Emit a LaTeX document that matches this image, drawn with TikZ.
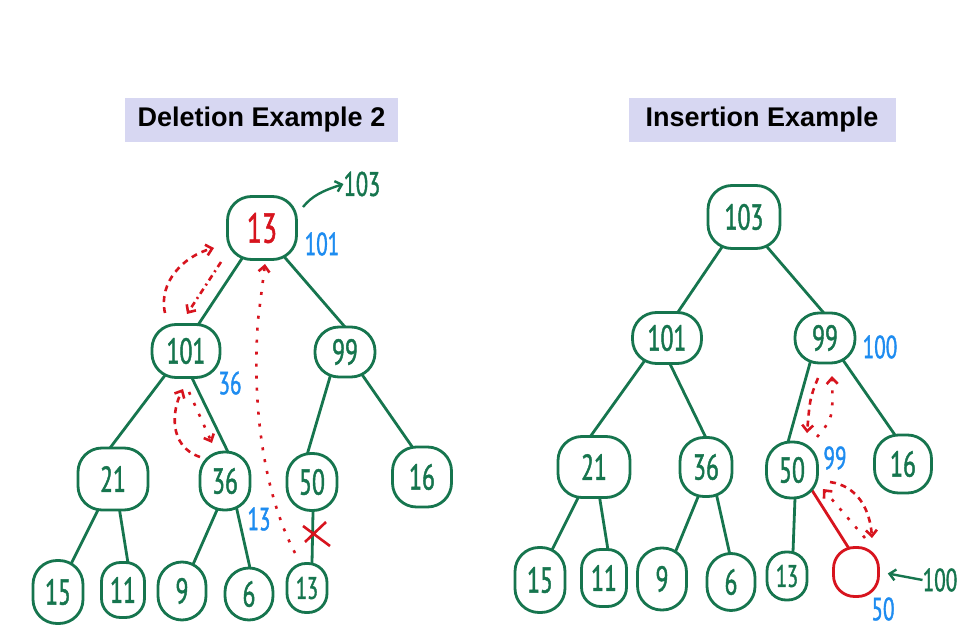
\documentclass[tikz,border=0pt]{standalone}
\usepackage{fontspec}
\usetikzlibrary{arrows.meta,backgrounds}
\setmainfont{Liberation Sans}
\newfontfamily\hand[FakeStretch=0.66,FakeBold=1.2]{PT Sans}
\definecolor{hgreen}{RGB}{22,117,78}
\definecolor{hred}{RGB}{215,20,30}
\definecolor{hblue}{RGB}{30,140,240}
\definecolor{lav}{RGB}{215,215,242}
\tikzset{
  nd/.style={draw=hgreen, fill=white, line width=2.8pt, rounded corners=24pt, inner sep=0pt,
    text=hgreen, font=\hand\fontsize{36}{36}\selectfont},
  thin/.style={rounded corners=19pt},
  edge/.style={draw=hgreen, line width=2.8pt, shorten <=-12pt, shorten >=-12pt},
  bl/.style={text=hblue, inner sep=0pt, font=\hand\fontsize{32}{32}\selectfont},
  gl/.style={text=hgreen, inner sep=0pt, font=\hand\fontsize{34}{34}\selectfont},
  ttl/.style={fill=lav, inner sep=0pt, font=\bfseries\fontsize{27}{27}\selectfont},
  rarr/.style={draw=hred, line width=2.6pt, -{Straight Barb[length=6pt,width=11pt]}},
  rdash/.style={rarr, dash pattern=on 6pt off 5pt},
  rdot/.style={rarr, dash pattern=on 3pt off 9pt},
  rdd/.style={rarr, dash pattern=on 6pt off 4pt on 2pt off 4pt},
  garr/.style={draw=hgreen, line width=2.4pt, -{Straight Barb[length=6pt,width=11pt]}}
}
\newcommand{\edg}[5][hgreen]{%
  \draw[edge, draw=#1] ([shift={#3}]#2.center) -- ([shift={#5}]#4.center);}
\begin{document}
\begin{tikzpicture}[x=1pt,y=-1pt]
\useasboundingbox (0,0) rectangle (980,644);
% titles
\node[ttl, minimum width=273pt, minimum height=44pt] (t1) at (261.5,120) {Deletion Example 2};
\node[ttl, minimum width=267pt, minimum height=44pt] (t2) at (762,120) {Insertion Example};

% ---------- left tree ----------
\node[nd, text=hred, font=\hand\fontsize{42}{42}\selectfont, minimum width=69pt, minimum height=63pt] (L13) at (262,228) {13};
\node[nd, minimum width=68pt, minimum height=53pt] (L101) at (186,351) {101};
\node[nd, minimum width=60pt, minimum height=50pt] (L99) at (345,352) {99};
\node[nd, minimum width=70pt, minimum height=62pt] (L21) at (113,479) {21};
\node[nd, minimum width=50pt, minimum height=58pt] (L36) at (225,481) {36};
\node[nd, minimum width=50pt, minimum height=57pt] (L50) at (312,482) {50};
\node[nd, minimum width=59pt, minimum height=60pt] (L16) at (422,477) {16};
\node[nd, minimum width=50pt, minimum height=63pt] (L15) at (58,592) {15};
\node[nd, thin, minimum width=43pt, minimum height=55pt] (L11) at (123,590) {11};
\node[nd, minimum width=48pt, minimum height=58pt] (L9) at (182,591) {9};
\node[nd, minimum width=48pt, minimum height=52pt] (L6) at (249,594) {6};
\node[nd, thin, font=\hand\fontsize{31}{31}\selectfont, minimum width=40pt, minimum height=49pt] (L13b) at (307,588) {13};

% ---------- right tree ----------
\node[nd, minimum width=72pt, minimum height=63pt] (R103) at (744,217) {103};
\node[nd, minimum width=69pt, minimum height=51pt] (R101) at (667,338) {101};
\node[nd, minimum width=60pt, minimum height=50pt] (R99) at (825,338) {99};
\node[nd, minimum width=72pt, minimum height=61pt] (R21) at (594,467) {21};
\node[nd, minimum width=52pt, minimum height=59pt] (R36) at (706,467) {36};
\node[nd, minimum width=51pt, minimum height=56pt] (R50) at (792,470) {50};
\node[nd, minimum width=57pt, minimum height=58pt] (R16) at (903,464) {16};
\node[nd, minimum width=50pt, minimum height=65pt] (R15) at (540,580) {15};
\node[nd, thin, minimum width=45pt, minimum height=57pt] (R11) at (604,578) {11};
\node[nd, minimum width=49pt, minimum height=62pt] (R9) at (662,579) {9};
\node[nd, minimum width=48pt, minimum height=57pt] (R6) at (731,582) {6};
\node[nd, thin, font=\hand\fontsize{31}{31}\selectfont, minimum width=40pt, minimum height=48pt] (R13) at (787,576) {13};
\node[nd, draw=hred, rounded corners=21pt, minimum width=45pt, minimum height=49pt] (Rnew) at (856,572) {};

\begin{scope}[on background layer]
\edg{L13}{(-21,32)}{L101}{(12,-26)}
\edg{L13}{(25,32)}{L99}{(0,-25)}
\edg{L101}{(-23,27)}{L21}{(-3,-31)}
\edg{L101}{(6,27)}{L36}{(3,-29)}
\edg{L99}{(-15,25)}{L50}{(-5,-27)}
\edg{L99}{(18,24)}{L16}{(-9,-29)}
\edg{L21}{(-16,33)}{L15}{(15,-32)}
\edg{L21}{(7,34)}{L11}{(5,-27)}
\edg{L36}{(-8,29)}{L9}{(13,-31)}
\edg{L36}{(12,29)}{L6}{(1,-26)}
\edg{L50}{(1,30)}{L13b}{(5,-25)}
\edg{R103}{(-24,33)}{R101}{(11,-26)}
\edg{R103}{(24,31)}{R99}{(-2,-26)}
\edg{R101}{(-24,25)}{R21}{(-4,-30)}
\edg{R101}{(5,30)}{R36}{(2,-25)}
\edg{R99}{(-15,25)}{R50}{(-4,-28)}
\edg{R99}{(20,25)}{R16}{(-8,-29)}
\edg{R21}{(-16,31)}{R15}{(13,-32)}
\edg{R21}{(6,33)}{R11}{(4,-28)}
\edg{R36}{(-8,30)}{R9}{(15,-31)}
\edg{R36}{(11,30)}{R6}{(-1,-27)}
\edg{R50}{(3,28)}{R13}{(6,-24)}
\edg[hred]{R50}{(23,25)}{Rnew}{(-8,-25)}
\end{scope}

% annotations left
\node[gl] (g103) at (362,184) {103};
\coordinate (g103s) at (303,207);
\draw[garr] (g103s) .. controls (312,196) and (322,191) .. (g103.west);
\node[bl] (b101) at (322,244) {101};
\node[bl] (b36) at (230,383) {36};
\node[bl] (b13) at (259,519) {13};

\coordinate (a1s) at (165,313); \coordinate (a1e) at (214,248);
\draw[rdash] (a1s) .. controls (158,282) and (184,256) .. (a1e);
\coordinate (a2s) at (221,262); \coordinate (a2e) at (187,314);
\draw[rdd] (a2s) -- (a2e);
\coordinate (a3s) at (200,457); \coordinate (a3e) at (183,389);
\draw[rdash] (a3s) .. controls (168,446) and (172,410) .. (a3e);
\coordinate (a4s) at (189,392); \coordinate (a4e) at (212,443);
\draw[rdot] (a4s) -- (a4e);
\coordinate (a5s) at (295,553); \coordinate (a5e) at (265,264);
\draw[rdot] (a5s) .. controls (262,490) and (252,400) .. (258,320) -- (a5e);

\coordinate (x1) at (303,526); \coordinate (x2) at (330,546);
\coordinate (x3) at (326,522); \coordinate (x4) at (305,542);
\draw[hred, line width=2.6pt] (x1) -- (x2) (x3) -- (x4);

% annotations right
\node[bl] (b100) at (880,347) {100};
\node[bl] (b99) at (835,458) {99};
\node[bl] (b50) at (883,609) {50};
\node[gl, font=\hand\fontsize{32}{32}\selectfont] (g100) at (940,580) {100};
\draw[garr, shorten >=8pt] (g100.west) -- (Rnew.east);

\coordinate (b1s) at (818,378); \coordinate (b1e) at (807,433);
\draw[rdash] (b1s) .. controls (810,398) .. (b1e);
\coordinate (b2s) at (817,437); \coordinate (b2e) at (832,376);
\draw[rdot] (b2s) .. controls (833,418) .. (b2e);
\coordinate (b4s) at (830,482); \coordinate (b4e) at (872,538);
\draw[rdash] (b4s) .. controls (858,486) and (870,510) .. (b4e);
\coordinate (b5s) at (865,538); \coordinate (b5e) at (823,489);
\draw[rdot] (b5s) -- (b5e);
\end{tikzpicture}
\end{document}
